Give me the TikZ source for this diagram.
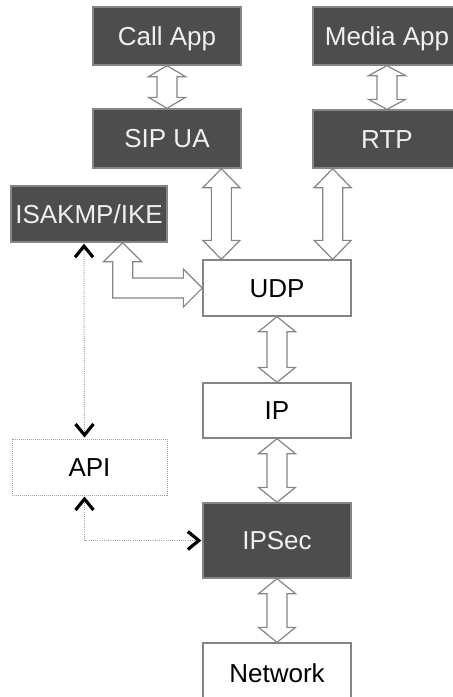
\documentclass[tikz,border=0pt]{standalone}
\usepackage{fontspec}
\setmainfont{Liberation Sans}
\usetikzlibrary{arrows.meta,calc}

\definecolor{boxdark}{HTML}{4D4D4D}
\definecolor{boxline}{HTML}{858585}
\definecolor{dotline}{HTML}{A0A0A0}

\tikzset{
  layer/.style={rectangle, draw=boxline, line width=1.3pt, inner sep=0pt,
    minimum width=148pt, minimum height=56pt,
    font=\fontsize{26}{30}\selectfont, text height=18.6pt, text depth=0pt},
  darklayer/.style={layer, fill=boxdark, text=white!94!black},
  lightlayer/.style={layer, fill=white, text=black},
  apibox/.style={layer, draw=dotline, line width=1pt, dash pattern=on 1pt off 1pt, text=black},
  blockarrow/.style={draw=boxline, fill=white, line width=1.2pt, line join=miter},
  chev/.tip={Straight Barb[length=11pt, width=18pt, line width=3.2pt, color=black]},
  control/.style={draw=dotline, line width=1pt, dash pattern=on 1pt off 1.2pt,
    chev-chev, shorten <=1pt, shorten >=1pt}
}

% vertical two-headed block arrow: #1 upper end, #2 lower end, #3 head length
\newcommand\layerlink[3]{%
  \path[blockarrow] let \p1=#1, \p2=#2 in
    (\x1,\y1) -- (\x1+18.5pt,\y1-#3) -- (\x1+10pt,\y1-#3) -- (\x1+10pt,\y2+#3)
    -- (\x1+18.5pt,\y2+#3) -- (\x1,\y2) -- (\x1-18.5pt,\y2+#3) -- (\x1-10pt,\y2+#3)
    -- (\x1-10pt,\y1-#3) -- (\x1-18.5pt,\y1-#3) -- cycle;}

\begin{document}
\begin{tikzpicture}[x=1pt,y=-1pt]
  \useasboundingbox (0,0) rectangle (453,697);

  % protocol layers
  \node[darklayer, minimum height=58pt] (callapp) at (167,36) {Call App};
  \node[darklayer, minimum height=58pt] (mediaapp) at (387,36) {Media App};
  \node[darklayer, minimum height=59pt] (sipua) at (167,138.5) {SIP UA};
  \node[darklayer, minimum height=58pt] (rtp) at (387,139) {RTP};
  \node[darklayer, minimum width=156pt] (isakmp) at (89,214) {ISAKMP/IKE};
  \node[lightlayer] (udp) at (277,288) {UDP};
  \node[lightlayer, minimum height=55pt] (ip) at (277,410.5) {IP};
  \node[apibox, minimum width=155pt] (api) at (89.5,467) {API};
  \node[darklayer, minimum height=75pt] (ipsec) at (277,540.5) {IPSec};
  \node[lightlayer, minimum height=60pt] (network) at (277,673) {Network};

  % data paths between layers
  \layerlink{(callapp.south)}{(sipua.north)}{11pt}
  \layerlink{(mediaapp.south)}{(rtp.north)}{10pt}
  \coordinate (sipdown) at ([xshift=19pt]udp.north west);
  \coordinate (rtpdown) at ([xshift=-19pt]udp.north east);
  \layerlink{(sipua.south -| sipdown)}{(sipdown)}{19pt}
  \layerlink{(rtp.south -| rtpdown)}{(rtpdown)}{19pt}
  \layerlink{(udp.south)}{(ip.north)}{15pt}
  \layerlink{(ip.south)}{(ipsec.north)}{15pt}
  \layerlink{(ipsec.south)}{(network.north)}{15pt}

  % key exchange path from ISAKMP/IKE down and across to UDP
  \coordinate (ikeport) at ([xshift=-45pt]isakmp.south east);
  \path[blockarrow] let \p1=(ikeport), \p2=(udp.west) in
    (\x1,\y1) -- (\x1+19pt,\y1-19pt) -- (\x1+10pt,\y1-19pt) -- (\x1+10pt,\y2+10pt)
    -- (\x2-19pt,\y2+10pt) -- (\x2-19pt,\y2+19pt) -- (\x2,\y2)
    -- (\x2-19pt,\y2-19pt) -- (\x2-19pt,\y2-10pt) -- (\x1-10pt,\y2-10pt)
    -- (\x1-10pt,\y1-19pt) -- (\x1-19pt,\y1-19pt) -- cycle;

  % control paths through the API
  \draw[control] ([xshift=-5pt]isakmp.south) -- ([xshift=-5pt]api.north);
  \draw[control] ([xshift=-5pt]api.south) |- (ipsec.west);
\end{tikzpicture}
\end{document}
